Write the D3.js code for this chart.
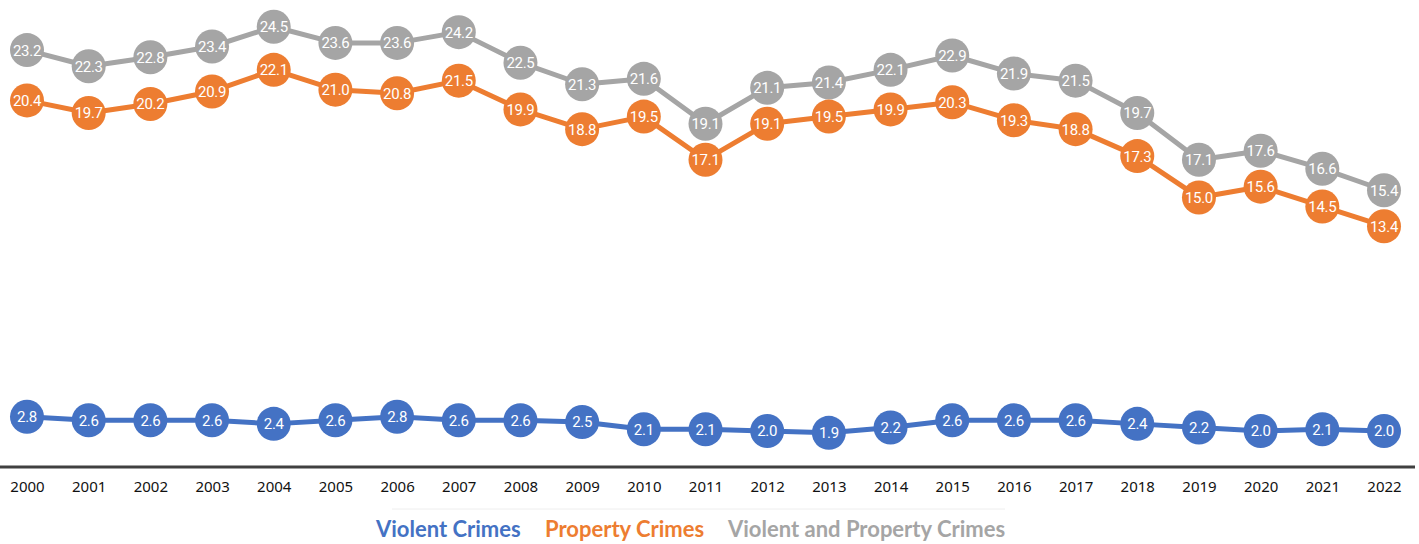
<!DOCTYPE html>
<html><head><meta charset="utf-8">
<script src="https://cdn.jsdelivr.net/npm/d3@7"></script>
<style>body{margin:0;background:#fff}svg{display:block}</style>
</head><body><svg id="c" width="1419" height="544"></svg>
<script>
const years = ["2000","2001","2002","2003","2004","2005","2006","2007","2008","2009","2010","2011","2012","2013","2014","2015","2016","2017","2018","2019","2020","2021","2022"];
const violent = [2.8,2.6,2.6,2.6,2.4,2.6,2.8,2.6,2.6,2.5,2.1,2.1,2.0,1.9,2.2,2.6,2.6,2.6,2.4,2.2,2.0,2.1,2.0];
const property = [20.4,19.7,20.2,20.9,22.1,21.0,20.8,21.5,19.9,18.8,19.5,17.1,19.1,19.5,19.9,20.3,19.3,18.8,17.3,15.0,15.6,14.5,13.4];
const total = [23.2,22.3,22.8,23.4,24.5,23.6,23.6,24.2,22.5,21.3,21.6,19.1,21.1,21.4,22.1,22.9,21.9,21.5,19.7,17.1,17.6,16.6,15.4];
const seriesNames = ["Violent Crimes","Property Crimes","Violent and Property Crimes"];
const colors = ["#4472C4","#ED7D31","#A5A5A5"];

const svg = d3.select("#c");
const x = d3.scalePoint().domain(years).range([27,1384]);
const y = d3.scaleLinear().domain([0,25]).range([467,17.75]);

const series = [
  {name:seriesNames[2], values:total, color:colors[2]},
  {name:seriesNames[1], values:property, color:colors[1]},
  {name:seriesNames[0], values:violent, color:colors[0]}
];
const line = d3.line().x((d,i)=>x(years[i])).y(d=>y(d));
series.forEach(s=>{
  const g = svg.append("g");
  g.append("path").attr("d", line(s.values)).attr("fill","none").attr("stroke",s.color).attr("stroke-width",5).attr("stroke-linejoin","round");
  const pts = g.selectAll("g.pt").data(s.values).enter().append("g").attr("transform",(d,i)=>`translate(${x(years[i])},${y(d)})`);
  pts.append("circle").attr("r",17).attr("fill",s.color);
  pts.append("text").text(d=>d.toFixed(1)).attr("text-anchor","middle").attr("dy","0.36em")
    .attr("fill","#fff").attr("font-family","Roboto, 'Liberation Sans Narrow', sans-serif").attr("font-size",15).attr("letter-spacing","-0.3");
});

// x axis
const ax = svg.append("g").attr("transform","translate(0,467)").call(d3.axisBottom(x).tickSize(0).tickPadding(14));
ax.select(".domain").remove();
svg.insert("line",":first-child").attr("x1",0).attr("x2",1415).attr("y1",467).attr("y2",467).attr("stroke","#404040").attr("stroke-width",3);
ax.selectAll("text").attr("font-family","'Noto Sans', 'Open Sans', sans-serif").attr("font-size",15).attr("fill","#111");

// legend
svg.append("line").attr("x1",392).attr("x2",1005).attr("y1",509).attr("y2",509).attr("stroke","#eeeeee").attr("stroke-width",1);
const legX = [376,545,728];
const leg = svg.append("g");
seriesNames.forEach((n,i)=>{
  leg.append("text").attr("x",legX[i]).attr("y",537).text(n).attr("fill",colors[i])
    .attr("font-family","Lato, 'Open Sans', sans-serif").attr("font-weight","bold").attr("font-size",22);
});
</script></body></html>
